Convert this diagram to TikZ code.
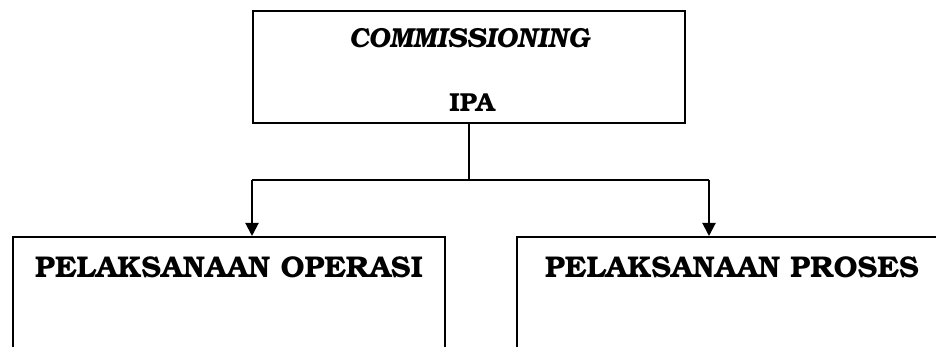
\documentclass[tikz,border=0pt]{standalone}
\usepackage[T1]{fontenc}
\usepackage{bookman}
\usetikzlibrary{arrows.meta, positioning, calc}

\tikzset{
  chartbox/.style={draw=black, line width=2pt, inner sep=0pt},
  toptext/.style={font=\fontsize{27.5}{32}\selectfont\bfseries, anchor=base},
  subtext/.style={font=\fontsize{30}{35}\selectfont\bfseries, anchor=base},
  link/.style={line width=2pt},
}

\begin{document}
\begin{tikzpicture}[x=1pt, y=-1pt]
  \useasboundingbox (0,0) rectangle (936,347);
  % kotak atas
  \node[chartbox, minimum width=432pt, minimum height=112pt] (ipa) at (469,67) {};
  \node[toptext] (ipatitle) at (469,48) {\itshape COMMISSIONING};
  \node[toptext, font=\fontsize{26}{30}\selectfont\bfseries] (ipaname) at (472,112) {IPA};
  % kotak bawah
  \node[chartbox, anchor=north west, minimum width=432pt, minimum height=200pt] (ops) at (12,236) {};
  \node[subtext] (opstitle) at (229,277) {PELAKSANAAN OPERASI};
  \node[chartbox, anchor=north west, minimum width=460pt, minimum height=200pt] (proc) at (516,236) {};
  \node[subtext] (proctitle) at (732,277) {PELAKSANAAN PROSES};
  % garis penghubung
  \coordinate (split) at (469,180);
  \coordinate (splitL) at (252,180);
  \coordinate (splitR) at (709,180);
  \draw[link] (ipa.south) -- (split);
  \draw[link] (splitL) -- (splitR);
  \draw[link, -{Triangle[length=13pt, width=13pt]}] (splitL) -- (splitL |- ops.north);
  \draw[link, -{Triangle[length=13pt, width=13pt]}] (splitR) -- (splitR |- proc.north);
\end{tikzpicture}
\end{document}
